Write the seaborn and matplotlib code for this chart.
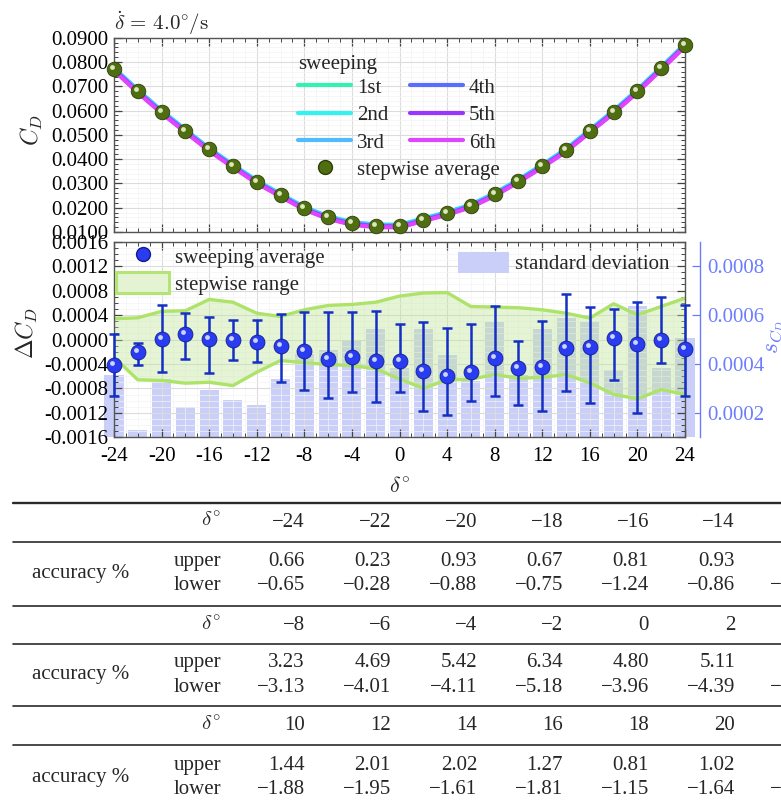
import numpy as np
import pandas as pd
import matplotlib
matplotlib.use("Agg")
import matplotlib.pyplot as plt
import matplotlib.transforms as mtransforms
from matplotlib.ticker import MultipleLocator, FuncFormatter
from matplotlib.lines import Line2D
from matplotlib.patches import Patch
import seaborn as sns

# ---------------- data ----------------
delta = [-24, -22, -20, -18, -16, -14, -12, -10, -8, -6, -4, -2, 0,
         2, 4, 6, 8, 10, 12, 14, 16, 18, 20, 22, 24]

cd_stepwise = [0.0771, 0.0680, 0.0595, 0.0517, 0.0440, 0.0372, 0.0307, 0.0252, 0.0198, 0.0160,
               0.0136, 0.0126, 0.0125, 0.0151, 0.0177, 0.0208, 0.0255, 0.0311, 0.0372, 0.0437,
               0.0516, 0.0595, 0.0681, 0.0774, 0.0870]
cd_sweep_1st = [0.0773, 0.0682, 0.0597, 0.0519, 0.0442, 0.0374, 0.0309, 0.0254, 0.0200, 0.0162,
                0.0138, 0.0128, 0.0127, 0.0153, 0.0179, 0.0210, 0.0257, 0.0313, 0.0374, 0.0439,
                0.0518, 0.0597, 0.0683, 0.0776, 0.0872]
cd_sweep_2nd = [0.0776, 0.0685, 0.0600, 0.0522, 0.0445, 0.0377, 0.0312, 0.0257, 0.0203, 0.0165,
                0.0141, 0.0131, 0.0130, 0.0156, 0.0182, 0.0213, 0.0260, 0.0316, 0.0377, 0.0442,
                0.0521, 0.0600, 0.0686, 0.0779, 0.0875]
cd_sweep_3rd = [0.0774, 0.0683, 0.0598, 0.0520, 0.0443, 0.0375, 0.0310, 0.0255, 0.0201, 0.0163,
                0.0139, 0.0129, 0.0128, 0.0154, 0.0180, 0.0211, 0.0258, 0.0314, 0.0375, 0.0440,
                0.0519, 0.0598, 0.0684, 0.0777, 0.0873]
cd_sweep_4th = [0.0769, 0.0678, 0.0593, 0.0515, 0.0438, 0.0370, 0.0305, 0.0250, 0.0196, 0.0158,
                0.0134, 0.0124, 0.0123, 0.0149, 0.0175, 0.0206, 0.0253, 0.0309, 0.0370, 0.0435,
                0.0514, 0.0593, 0.0679, 0.0772, 0.0868]
cd_sweep_5th = [0.0767, 0.0676, 0.0591, 0.0513, 0.0436, 0.0368, 0.0303, 0.0248, 0.0194, 0.0156,
                0.0132, 0.0122, 0.0121, 0.0147, 0.0173, 0.0204, 0.0251, 0.0307, 0.0368, 0.0433,
                0.0512, 0.0591, 0.0677, 0.0770, 0.0866]
cd_sweep_6th = [0.0765, 0.0674, 0.0589, 0.0511, 0.0434, 0.0366, 0.0301, 0.0246, 0.0192, 0.0154,
                0.0130, 0.0120, 0.0119, 0.0145, 0.0171, 0.0202, 0.0249, 0.0305, 0.0366, 0.0431,
                0.0510, 0.0589, 0.0675, 0.0768, 0.0864]

sweep_labels = ["1st", "2nd", "3rd", "4th", "5th", "6th"]
sweep_colors = ["#36efb2", "#33f3f2", "#50bbff", "#5a6dff", "#9a35ff", "#df45ff"]

dcd_sweep_avg = [-0.000415, -0.000208, 0.000012, 0.000082, 0.000012, -0.000005, -0.000049,
                 -0.000110, -0.000191, -0.000311, -0.000289, -0.000344, -0.000344, -0.000508,
                 -0.000590, -0.000535, -0.000306, -0.000470, -0.000443, -0.000142, -0.000115,
                 0.000022, -0.000070, -0.000016, -0.000153]
dcd_err_upper = [0.000082, -0.000060, 0.000557, 0.000430, 0.000360, 0.000322, 0.000322,
                 0.000415, 0.000450, 0.000450, 0.000450, 0.000470, 0.000257, 0.000279,
                 0.000186, 0.000251, 0.000540, -0.000027, 0.000310, 0.000750, 0.000530,
                 0.000497, 0.000620, 0.000690, 0.000557]
dcd_err_lower = [-0.000930, -0.000410, -0.000525, -0.000317, -0.000546, -0.000340, -0.000371,
                 -0.000700, -0.000825, -0.000960, -0.000860, -0.001020, -0.000860, -0.001170,
                 -0.001230, -0.001000, -0.000930, -0.001070, -0.001170, -0.000850, -0.001040,
                 -0.000670, -0.001200, -0.000390, -0.000920]
dcd_step_upper = [0.000340, 0.000355, 0.000460, 0.000470, 0.000656, 0.000610, 0.000430,
                  0.000377, 0.000486, 0.000557, 0.000574, 0.000610, 0.000710, 0.000760,
                  0.000768, 0.000540, 0.000530, 0.000520, 0.000486, 0.000430, 0.000350,
                  0.000585, 0.000404, 0.000540, 0.000677]
dcd_step_lower = [-0.000290, -0.000660, -0.000670, -0.000715, -0.000700, -0.000754, -0.000535,
                  -0.000344, -0.000380, -0.000410, -0.000426, -0.000480, -0.000645, -0.000800,
                  -0.000660, -0.000650, -0.000574, -0.000634, -0.000620, -0.000574, -0.000710,
                  -0.000900, -0.000970, -0.000820, -0.000900]
std_cd = [0.000354, 0.000129, 0.000340, 0.000222, 0.000292, 0.000251, 0.000231, 0.000340,
          0.000439, 0.000456, 0.000493, 0.000541, 0.000384, 0.000541, 0.000437, 0.000330,
          0.000572, 0.000354, 0.000541, 0.000586, 0.000572, 0.000374, 0.000636, 0.000384,
          0.000508]

x_ticks = [-24, -20, -16, -12, -8, -4, 0, 4, 8, 12, 16, 20, 24]
cd_ticks = [0.01, 0.02, 0.03, 0.04, 0.05, 0.06, 0.07, 0.08, 0.09]
dcd_ticks = [-0.0016, -0.0012, -0.0008, -0.0004, 0.0, 0.0004, 0.0008, 0.0012, 0.0016]
s_ticks = [0.0002, 0.0004, 0.0006, 0.0008]

table_delta_1 = [-24, -22, -20, -18, -16, -14]
table_upper_1 = [0.66, 0.23, 0.93, 0.67, 0.81, 0.93]
table_lower_1 = [-0.65, -0.28, -0.88, -0.75, -1.24, -0.86]
table_delta_2 = [-8, -6, -4, -2, 0, 2]
table_upper_2 = [3.23, 4.69, 5.42, 6.34, 4.80, 5.11]
table_lower_2 = [-3.13, -4.01, -4.11, -5.18, -3.96, -4.39]
table_delta_3 = [10, 12, 14, 16, 18, 20]
table_upper_3 = [1.44, 2.01, 2.02, 1.27, 0.81, 1.02]
table_lower_3 = [-1.88, -1.95, -1.61, -1.81, -1.15, -1.64]

# ---------------- style ----------------
sns.set_theme(style="white")
plt.rcParams["font.family"] = ["Liberation Serif", "DejaVu Serif"]
plt.rcParams["mathtext.fontset"] = "cm"
plt.rcParams["axes.unicode_minus"] = False

FS = 15
OLIVE = "#4f6e12"
BLUE = "#2a3cf0"
ERR = "#1430c4"
BAR = "#c9cff8"
GREEN_LINE = "#aee36a"
GREEN_FILL = "#bfe596"
RIGHT_BLUE = "#6b7dff"
SPINE = "#555555"

W, H = 781, 805
fig = plt.figure(figsize=(W / 100, H / 100), dpi=100)


def fx(p):
    return p / W


def fy(p):
    return 1 - p / H


L, R = 114, 685
ax_top = fig.add_axes([fx(L), fy(232), (R - L) / W, (232 - 37.7) / H])
ax_bot = fig.add_axes([fx(L), fy(437.3), (R - L) / W, (437.3 - 241.7) / H])


def style_axes(ax):
    for s in ax.spines.values():
        s.set_color(SPINE)
        s.set_linewidth(1.0)
    ax.tick_params(which="both", direction="in", top=True, right=True, bottom=True,
                   left=True, colors="#444444", labelcolor="black", labelsize=FS, pad=4)
    ax.tick_params(which="major", length=6, width=0.9)
    ax.tick_params(which="minor", length=3, width=0.7)
    ax.grid(True, which="major", color="#dcdcdc", lw=0.8)
    ax.grid(True, which="minor", color="#f3f3f3", lw=0.5)
    ax.set_axisbelow(True)


def fmt4(v, p):
    if abs(v) < 1e-12:
        v = 0.0
    return f"{v:.4f}"


# ---------------- top panel ----------------
df_sweep = pd.DataFrame({
    "delta": delta * 6,
    "cd": cd_sweep_1st + cd_sweep_2nd + cd_sweep_3rd + cd_sweep_4th + cd_sweep_5th + cd_sweep_6th,
    "sweep": [lab for lab in sweep_labels for _ in delta],
})
sns.lineplot(data=df_sweep, x="delta", y="cd", hue="sweep", hue_order=sweep_labels,
             palette=dict(zip(sweep_labels, sweep_colors)), lw=3, ax=ax_top,
             legend=False, estimator=None, sort=False)
sns.scatterplot(x=delta, y=cd_stepwise, color=OLIVE, s=110, edgecolor="#2c3f06",
                linewidth=0.6, ax=ax_top, zorder=5, clip_on=False)
ax_top.scatter(delta, cd_stepwise, s=12, color="#dbe7bd", lw=0, zorder=6, clip_on=False,
               transform=mtransforms.offset_copy(ax_top.transData, fig=fig, x=-2, y=2, units="dots"))

ax_top.set_xlim(-24, 24)
ax_top.set_ylim(0.01, 0.09)
ax_top.set_xticks(x_ticks)
ax_top.xaxis.set_minor_locator(MultipleLocator(1))
ax_top.set_yticks(cd_ticks)
ax_top.yaxis.set_minor_locator(MultipleLocator(0.002))
ax_top.yaxis.set_major_formatter(FuncFormatter(fmt4))
style_axes(ax_top)
ax_top.tick_params(labelbottom=False)
ax_top.set_xlabel("")
ax_top.set_ylabel("")

sweep_handles = [Line2D([], [], color=c, lw=3) for c in sweep_colors]
legA = ax_top.legend(sweep_handles, sweep_labels, title="sweeping", ncol=2, loc="upper left",
                     bbox_to_anchor=(fx(298), fy(55)), bbox_transform=fig.transFigure,
                     frameon=False, borderpad=0, borderaxespad=0, handlelength=2.55,
                     handletextpad=0.3, columnspacing=1.0, labelspacing=0.38, fontsize=FS,
                     title_fontsize=FS, alignment="left")
legA._legend_box.sep = 3
ax_top.add_artist(legA)
legB = ax_top.legend([Line2D([], [], ls="none", marker="o", markersize=10, color=OLIVE,
                             markeredgecolor="#2c3f06")], ["stepwise average"],
                     loc="upper left", bbox_to_anchor=(fx(298), fy(160)),
                     bbox_transform=fig.transFigure, frameon=False, borderpad=0,
                     borderaxespad=0, handlelength=2.55, handletextpad=0.3, fontsize=FS)

# ---------------- bottom panel ----------------
ax2 = ax_bot.twinx()
ax_bot.set_zorder(2)
ax2.set_zorder(1)
ax_bot.patch.set_visible(False)
ax2.patch.set_visible(True)
ax2.patch.set_facecolor("white")

S_LO, S_HI = 0.0001, 0.0009
ax2.bar(delta, [v - S_LO for v in std_cd], bottom=S_LO, width=1.6, color=BAR, lw=0,
        clip_on=False)
ax2.set_ylim(S_LO, S_HI)
ax2.set_yticks(s_ticks)
ax2.yaxis.set_major_formatter(FuncFormatter(fmt4))
for k in ["left", "top", "bottom"]:
    ax2.spines[k].set_visible(False)
ax2.spines["right"].set_position(("outward", 11))
ax2.spines["right"].set_color(RIGHT_BLUE)
ax2.spines["right"].set_linewidth(1.0)
ax2.tick_params(axis="y", which="both", direction="in", colors=RIGHT_BLUE,
                labelcolor=RIGHT_BLUE, labelsize=FS, length=6, width=0.9, pad=5)
ax2.grid(False)

ax_bot.fill_between(delta, dcd_step_lower, dcd_step_upper, color=GREEN_FILL, alpha=0.4,
                    lw=0, zorder=1)
sns.lineplot(x=delta, y=dcd_step_upper, color=GREEN_LINE, lw=2.4, ax=ax_bot, zorder=2)
sns.lineplot(x=delta, y=dcd_step_lower, color=GREEN_LINE, lw=2.4, ax=ax_bot, zorder=2)

avg = np.array(dcd_sweep_avg)
eb = ax_bot.errorbar(delta, dcd_sweep_avg,
                     yerr=[avg - np.array(dcd_err_lower), np.array(dcd_err_upper) - avg],
                     fmt="none", ecolor=ERR, elinewidth=1.8, capsize=3.5, capthick=1.8,
                     zorder=3)
for ch in eb.get_children():
    ch.set_clip_on(False)
sns.scatterplot(x=delta, y=dcd_sweep_avg, color=BLUE, s=115, edgecolor="#101c90",
                linewidth=0.6, ax=ax_bot, zorder=5, clip_on=False)
ax_bot.scatter(delta, dcd_sweep_avg, s=12, color="#cdd4ff", lw=0, zorder=6, clip_on=False,
               transform=mtransforms.offset_copy(ax_bot.transData, fig=fig, x=-2, y=2, units="dots"))

ax_bot.set_xlim(-24, 24)
ax_bot.set_ylim(-0.0016, 0.0016)
ax_bot.set_xticks(x_ticks)
ax_bot.xaxis.set_minor_locator(MultipleLocator(1))
ax_bot.set_yticks(dcd_ticks)
ax_bot.yaxis.set_minor_locator(MultipleLocator(0.0001))
ax_bot.yaxis.set_major_formatter(FuncFormatter(fmt4))
ax_bot.xaxis.set_major_formatter(FuncFormatter(lambda v, p: f"{int(round(v))}"))
style_axes(ax_bot)
ax_bot.tick_params(axis="x", pad=7)
ax_bot.set_xlabel("")
ax_bot.set_ylabel("")

legC = ax_bot.legend([Line2D([], [], ls="none", marker="o", markersize=10, color=BLUE,
                             markeredgecolor="#101c90"),
                      Patch(facecolor="#e4f4d2", edgecolor="#b4e474", lw=2.2)],
                     ["sweeping average", "stepwise range"], loc="upper left",
                     bbox_to_anchor=(fx(116), fy(245)), bbox_transform=fig.transFigure,
                     frameon=False, borderpad=0, borderaxespad=0, handlelength=2.55,
                     handleheight=1.2, handletextpad=0.3, labelspacing=0.2, fontsize=FS)
ax_bot.add_artist(legC)
legD = ax_bot.legend([Patch(facecolor=BAR, lw=0)], ["standard deviation"], loc="upper left",
                     bbox_to_anchor=(fx(458), fy(252)), bbox_transform=fig.transFigure,
                     frameon=False, borderpad=0, borderaxespad=0, handlelength=2.45,
                     handleheight=1.15, handletextpad=0.3, fontsize=FS)

# ---------------- axis labels / title ----------------
fig.text(fx(114), fy(23), r"$\dot{\delta}\, =\, 4.0^{\circ}/\mathrm{s}$", ha="left",
         va="center", fontsize=FS)
fig.text(fx(32), fy(130), r"$C_D$", rotation=90, ha="center", va="center", fontsize=17)
fig.text(fx(27), fy(333), r"$\Delta C_D$", rotation=90, ha="center", va="center", fontsize=17)
fig.text(fx(776), fy(337), r"$s_{C_D}$", rotation=90, ha="center", va="center", fontsize=17,
         color=RIGHT_BLUE)
fig.text(fx(400), fy(487), r"$\delta^{\circ}$", ha="center", va="center", fontsize=16)

# ---------------- table ----------------
MINUS = "\u2212"


def fnum(v, nd):
    s = f"{abs(v):.{nd}f}"
    return (MINUS + s) if v < 0 else s


rules = [(503, 1.7), (542, 1.2), (606, 1.2), (643.5, 1.2), (706, 1.2), (744.5, 1.2)]
for yy, lw in rules:
    fig.add_artist(Line2D([fx(13), 1.0], [fy(yy), fy(yy)], transform=fig.transFigure,
                          color="#2a2a2a", lw=lw))

col_right = [305, 391, 477, 563, 649, 735]
blocks = [
    (table_delta_1, table_upper_1, table_lower_1, 522, 561, 586),
    (table_delta_2, table_upper_2, table_lower_2, 625.5, 662, 687),
    (table_delta_3, table_upper_3, table_lower_3, 726, 765, 789),
]
TFS = 15
for d_vals, up_vals, lo_vals, hy, uy, ly in blocks:
    fig.text(fx(221), fy(hy), r"$\delta^{\circ}$", ha="right", va="center", fontsize=TFS)
    fig.text(fx(81), fy((uy + ly) / 2), "accuracy %", ha="center", va="center", fontsize=TFS)
    fig.text(fx(221), fy(uy), "upper", ha="right", va="center", fontsize=TFS)
    fig.text(fx(221), fy(ly), "lower", ha="right", va="center", fontsize=TFS)
    for cx, d, u, lo in zip(col_right, d_vals, up_vals, lo_vals):
        fig.text(fx(cx), fy(hy), fnum(d, 0), ha="right", va="center", fontsize=TFS)
        fig.text(fx(cx), fy(uy), fnum(u, 2), ha="right", va="center", fontsize=TFS)
        fig.text(fx(cx), fy(ly), fnum(lo, 2), ha="right", va="center", fontsize=TFS)
    fig.text(fx(770), fy(ly), MINUS, ha="left", va="center", fontsize=TFS)

fig.savefig("out.png", dpi=100)
